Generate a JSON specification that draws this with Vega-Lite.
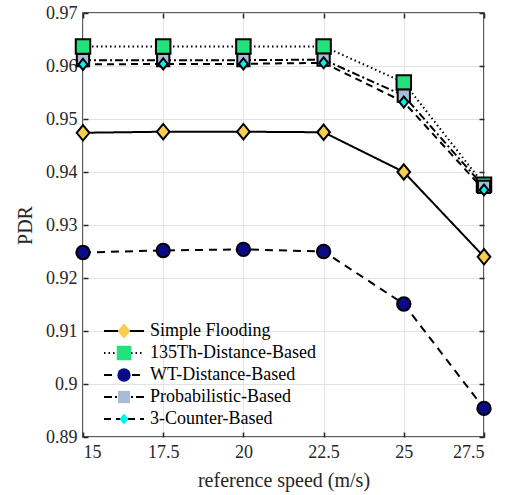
{
  "$schema": "https://vega.github.io/schema/vega-lite/v6.json",
  "width": 401,
  "height": 424,
  "autosize": {"type": "none"},
  "padding": {"left": 83, "top": 13, "right": 26, "bottom": 58},
  "background": "white",
  "config": {
    "font": "Liberation Serif",
    "axis": {"labelFont": "Liberation Serif", "titleFont": "Liberation Serif"},
    "legend": {"labelFont": "Liberation Serif", "titleFont": "Liberation Serif"},
    "view": {"stroke": "#262626", "strokeWidth": 1.5}
  },
  "data": {
    "values": [
      {"speed": 15, "pdr": 0.9474, "method": "Simple Flooding"},
      {"speed": 17.5, "pdr": 0.9476, "method": "Simple Flooding"},
      {"speed": 20, "pdr": 0.9476, "method": "Simple Flooding"},
      {"speed": 22.5, "pdr": 0.9475, "method": "Simple Flooding"},
      {"speed": 25, "pdr": 0.9400, "method": "Simple Flooding"},
      {"speed": 27.5, "pdr": 0.9240, "method": "Simple Flooding"},
      {"speed": 15, "pdr": 0.9637, "method": "135Th-Distance-Based"},
      {"speed": 17.5, "pdr": 0.9637, "method": "135Th-Distance-Based"},
      {"speed": 20, "pdr": 0.9637, "method": "135Th-Distance-Based"},
      {"speed": 22.5, "pdr": 0.9637, "method": "135Th-Distance-Based"},
      {"speed": 25, "pdr": 0.9569, "method": "135Th-Distance-Based"},
      {"speed": 27.5, "pdr": 0.9376, "method": "135Th-Distance-Based"},
      {"speed": 15, "pdr": 0.9248, "method": "WT-Distance-Based"},
      {"speed": 17.5, "pdr": 0.9252, "method": "WT-Distance-Based"},
      {"speed": 20, "pdr": 0.9254, "method": "WT-Distance-Based"},
      {"speed": 22.5, "pdr": 0.9250, "method": "WT-Distance-Based"},
      {"speed": 25, "pdr": 0.9151, "method": "WT-Distance-Based"},
      {"speed": 27.5, "pdr": 0.8954, "method": "WT-Distance-Based"},
      {"speed": 15, "pdr": 0.9611, "method": "Probabilistic-Based"},
      {"speed": 17.5, "pdr": 0.9611, "method": "Probabilistic-Based"},
      {"speed": 20, "pdr": 0.9611, "method": "Probabilistic-Based"},
      {"speed": 22.5, "pdr": 0.9612, "method": "Probabilistic-Based"},
      {"speed": 25, "pdr": 0.9544, "method": "Probabilistic-Based"},
      {"speed": 27.5, "pdr": 0.9372, "method": "Probabilistic-Based"},
      {"speed": 15, "pdr": 0.9603, "method": "3-Counter-Based"},
      {"speed": 17.5, "pdr": 0.9604, "method": "3-Counter-Based"},
      {"speed": 20, "pdr": 0.9604, "method": "3-Counter-Based"},
      {"speed": 22.5, "pdr": 0.9606, "method": "3-Counter-Based"},
      {"speed": 25, "pdr": 0.9532, "method": "3-Counter-Based"},
      {"speed": 27.5, "pdr": 0.9366, "method": "3-Counter-Based"}
    ]
  },
  "layer": [
    {
      "mark": {"type": "line", "color": "black", "strokeWidth": 2},
      "encoding": {
        "x": {
          "field": "speed", "type": "quantitative",
          "scale": {"domain": [15, 27.5], "nice": false, "zero": false},
          "axis": {
            "orient": "bottom",
            "values": [15, 17.5, 20, 22.5, 25, 27.5],
            "labelExpr": "'' + datum.value",
            "title": "reference speed (m/s)",
            "titleFontSize": 20, "titleFontWeight": "normal", "titleColor": "#262626",
            "titlePadding": 9,
            "labelFontSize": 18, "labelColor": "#262626", "labelPadding": 11,
            "grid": true, "gridColor": "#e3e3e3", "gridWidth": 1,
            "domain": false,
            "ticks": true, "tickSize": -5, "tickColor": "#262626", "tickWidth": 1.5
          }
        },
        "y": {
          "field": "pdr", "type": "quantitative",
          "scale": {"domain": [0.89, 0.97], "nice": false, "zero": false},
          "axis": {
            "orient": "left",
            "values": [0.89, 0.9, 0.91, 0.92, 0.93, 0.94, 0.95, 0.96, 0.97],
            "labelExpr": "'' + datum.value",
            "title": "PDR",
            "titleFontSize": 20, "titleFontWeight": "normal", "titleColor": "#262626",
            "titlePadding": 10,
            "labelFontSize": 18, "labelColor": "#262626", "labelPadding": 11,
            "grid": true, "gridColor": "#e3e3e3", "gridWidth": 1,
            "domain": false,
            "ticks": true, "tickSize": -5, "tickColor": "#262626", "tickWidth": 1.5
          }
        },
        "detail": {"field": "method", "type": "nominal"},
        "strokeDash": {
          "field": "method", "type": "nominal",
          "sort": ["Simple Flooding", "135Th-Distance-Based", "WT-Distance-Based", "Probabilistic-Based", "3-Counter-Based"],
          "scale": {"range": [[1, 0], [1.5, 3], [8, 6], [8, 3, 2, 3], [7, 5]]},
          "legend": {
            "orient": "none", "legendX": 20, "legendY": 309,
            "title": null, "padding": 0,
            "symbolType": "stroke", "symbolSize": 1600, "symbolStrokeWidth": 2,
            "symbolStrokeColor": "black",
            "labelFontSize": 18, "labelOpacity": 0, "rowPadding": 4, "labelLimit": 400,
            "clipHeight": 18,
            "zindex": 0
          }
        }
      }
    },
    {
      "mark": {"type": "point", "filled": true, "stroke": "black", "strokeWidth": 2, "opacity": 1},
      "encoding": {
        "x": {
          "field": "speed", "type": "quantitative",
          "axis": {"orient": "top", "values": [15, 17.5, 20, 22.5, 25, 27.5], "labels": false, "title": null, "grid": false, "domain": false, "tickSize": -5, "tickColor": "#262626", "tickWidth": 1.5}
        },
        "y": {
          "field": "pdr", "type": "quantitative",
          "axis": {"orient": "right", "values": [0.89, 0.9, 0.91, 0.92, 0.93, 0.94, 0.95, 0.96, 0.97], "labels": false, "title": null, "grid": false, "domain": false, "tickSize": -5, "tickColor": "#262626", "tickWidth": 1.5}
        },
        "shape": {
          "field": "method", "type": "nominal",
          "scale": {
            "domain": ["Simple Flooding", "135Th-Distance-Based", "WT-Distance-Based", "Probabilistic-Based", "3-Counter-Based"],
            "range": ["M-0.82,0L0,-1L0.82,0L0,1Z", "square", "circle", "square", "M-0.82,0L0,-1L0.82,0L0,1Z"]
          },
          "legend": {
            "orient": "none", "legendX": 32, "legendY": 309,
            "title": null, "padding": 0,
            "labelFontSize": 18, "labelColor": "black", "labelOffset": 17, "rowPadding": 4, "labelLimit": 400,
            "symbolStrokeColor": "black", "symbolStrokeWidth": 2,
            "clipHeight": 18,
            "zindex": 1
          }
        },
        "fill": {
          "field": "method", "type": "nominal",
          "scale": {
            "domain": ["Simple Flooding", "135Th-Distance-Based", "WT-Distance-Based", "Probabilistic-Based", "3-Counter-Based"],
            "range": ["#F9CD4E", "#22E27C", "#0B0B85", "#A9BBD6", "#00F2F2"]
          },
          "legend": {
            "orient": "none", "legendX": 32, "legendY": 309,
            "title": null, "padding": 0,
            "labelFontSize": 18, "labelColor": "black", "labelOffset": 17, "rowPadding": 4, "labelLimit": 400,
            "symbolStrokeColor": "black", "symbolStrokeWidth": 2,
            "clipHeight": 18,
            "zindex": 1
          }
        },
        "size": {
          "field": "method", "type": "nominal",
          "scale": {
            "domain": ["Simple Flooding", "135Th-Distance-Based", "WT-Distance-Based", "Probabilistic-Based", "3-Counter-Based"],
            "range": [240, 120, 210, 120, 220]
          },
          "legend": {
            "orient": "none", "legendX": 32, "legendY": 309,
            "title": null, "padding": 0,
            "labelFontSize": 18, "labelColor": "black", "labelOffset": 17, "rowPadding": 4, "labelLimit": 400,
            "symbolStrokeColor": "black", "symbolStrokeWidth": 2,
            "clipHeight": 18,
            "zindex": 1
          }
        }
      }
    }
  ],
  "resolve": {"axis": {"x": "independent", "y": "independent"}}
}
